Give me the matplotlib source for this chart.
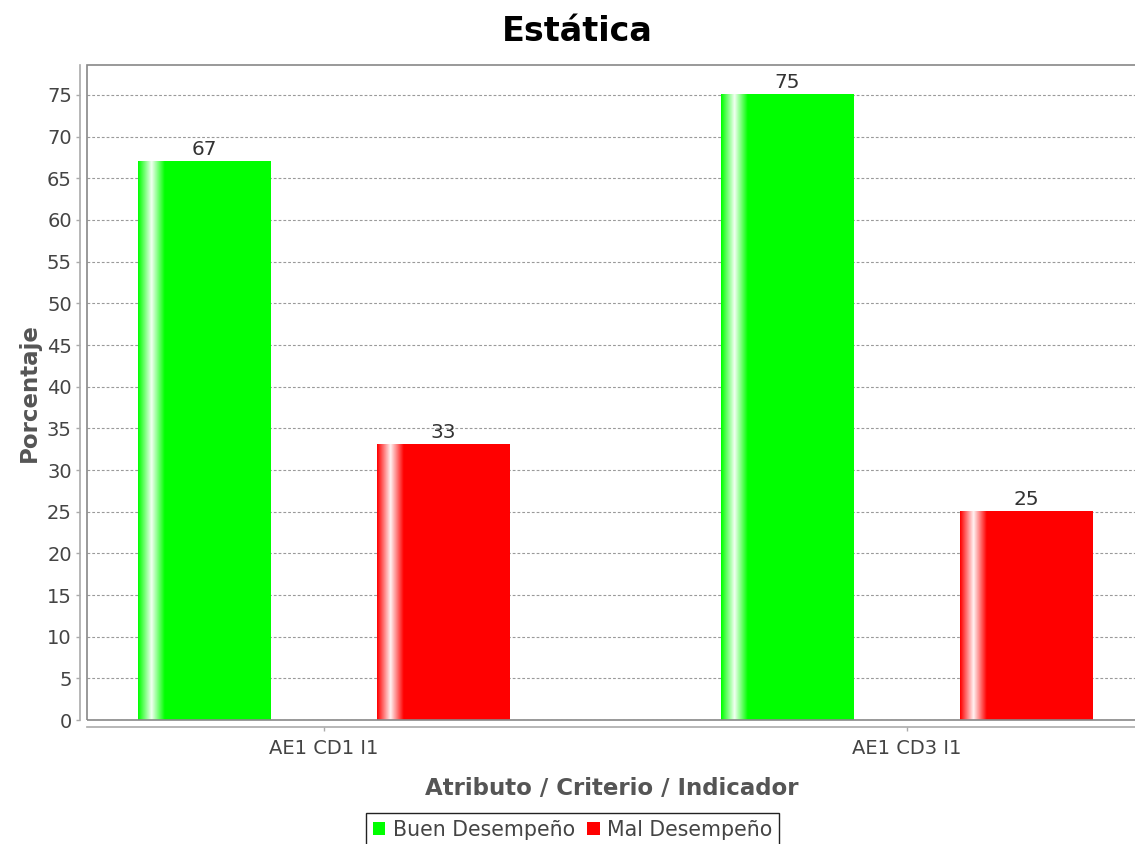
import numpy as np
import matplotlib
matplotlib.use("Agg")
import matplotlib.pyplot as plt
from matplotlib.patches import Patch, Rectangle

categories = ["AE1 CD1 I1", "AE1 CD3 I1"]
series = ["Buen Desempeño", "Mal Desempeño"]
buen = [67, 75]
mal = [33, 25]
yticks = list(range(0, 80, 5))

COLORS = ["#00ff00", "#ff0000"]
BAR_W = 0.228
OFFSET = 0.205


def gradient_bar(ax, x0, h, color):
    # JFreeChart-like gradient: colour -> white -> colour over first 20%
    t = np.linspace(0, 1, 200)
    white = np.where(t < 0.1, t / 0.1, np.where(t < 0.2, (0.2 - t) / 0.1, 0.0))
    white = np.clip(white, 0, 1) * 0.95
    rgb = np.array(matplotlib.colors.to_rgb(color))
    img = rgb[None, :] * (1 - white[:, None]) + white[:, None]
    img = img[None, :, :]
    ax.imshow(img, extent=(x0, x0 + BAR_W, 0, h), aspect="auto",
              interpolation="bilinear", zorder=2)


fig = plt.figure(figsize=(11.35, 8.44), dpi=100)
ax = fig.add_axes([0.0767, 0.1469, 0.9243, 0.7761])

x = np.arange(len(categories))
for vals, off, col in [(buen, -OFFSET, COLORS[0]), (mal, OFFSET, COLORS[1])]:
    for xi, v in zip(x, vals):
        gradient_bar(ax, xi + off - BAR_W / 2, v, col)
        ax.annotate(f"{v}", (xi + off, v), xytext=(0, 2), textcoords="offset points",
                    ha="center", va="bottom", fontsize=14.5, color="#333333")

ax.set_xlim(-0.4065, 1.393)
ax.set_ylim(0, 78.6)
ax.set_yticks(yticks)
ax.set_xticks(x)
ax.set_xticklabels(categories)
ax.yaxis.grid(True, linestyle=(0, (2.5, 1.8)), color="#9a9a9a", linewidth=0.8)
ax.set_axisbelow(True)

# plot frame
ax.add_patch(Rectangle((0, 0), 1, 1, transform=ax.transAxes, fill=False,
                       edgecolor="#888888", linewidth=1.2, zorder=5, clip_on=False))
for s in ["top", "right"]:
    ax.spines[s].set_visible(False)
for s in ["left", "bottom"]:
    ax.spines[s].set_position(("outward", 5))
    ax.spines[s].set_color("#aaaaaa")
    ax.spines[s].set_linewidth(1.2)

ax.tick_params(axis="y", direction="out", length=3, width=1, color="#aaaaaa",
               labelsize=14, labelcolor="#444444", pad=3)
ax.tick_params(axis="x", direction="out", length=3, width=1, color="#aaaaaa",
               labelsize=14, labelcolor="#444444", pad=6)

ax.set_ylabel("Porcentaje", fontsize=16.5, fontweight="bold", color="#555555", labelpad=4.5)
ax.set_xlabel("Atributo / Criterio / Indicador", fontsize=16.5, fontweight="bold",
              color="#555555", labelpad=13)
fig.suptitle("Estática", fontsize=24, fontweight="bold", x=0.509, y=0.982)

handles = [Patch(facecolor=c, edgecolor="none") for c in COLORS]
fig.legend(handles, series, loc="lower center", bbox_to_anchor=(0.5045, -0.016),
           ncol=2, fancybox=False, edgecolor="#222222", framealpha=1,
           fontsize=14.8, handlelength=0.6, handleheight=0.6, handletextpad=0.35,
           columnspacing=0.6, borderpad=0.35, labelcolor="#444444")

fig.savefig("out.png", dpi=100)
